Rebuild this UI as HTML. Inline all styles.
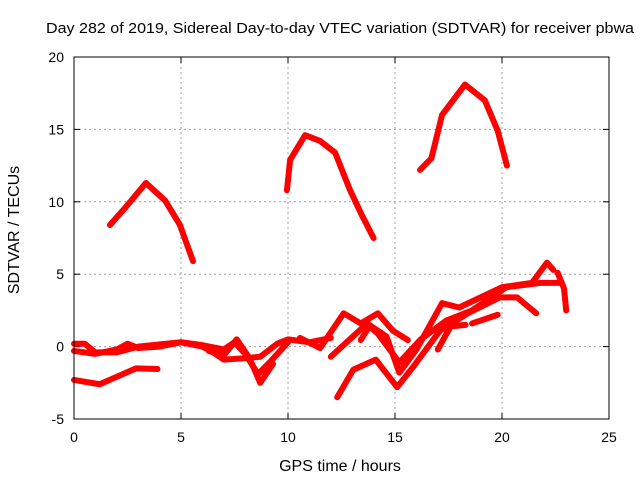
<!DOCTYPE html>
<html><head><meta charset="utf-8"><style>
body{margin:0;background:#fff;}
svg text{font-family:"Liberation Sans",sans-serif;font-size:14px;fill:#000;}
</style></head><body>
<svg id="chart" width="640" height="480">
<text x="340" y="33" text-anchor="middle" textLength="588" lengthAdjust="spacingAndGlyphs" style="font-size:15px">Day 282 of 2019, Sidereal Day-to-day VTEC variation (SDTVAR) for receiver pbwa</text>
<text x="340" y="471" text-anchor="middle" style="font-size:16px">GPS time / hours</text>
<text transform="translate(19,230) rotate(-90)" text-anchor="middle" style="font-size:16px">SDTVAR / TECUs</text>
<g id="grid"></g><g id="ticks"></g><g id="series"></g>
<rect x="74" y="57" width="535" height="362" fill="none" stroke="#000" stroke-width="1"/>
</svg>
<script>
const xTicks=[0,5,10,15,20,25];
const yTicks=[-5,0,5,10,15,20];
const arc1=[[1.68,8.4],[2.4,9.6],[3.36,11.3],[4.25,10.1],[4.95,8.4],[5.56,5.9]];
const arc2=[[9.95,10.8],[10.1,12.9],[10.8,14.6],[11.5,14.2],[12.2,13.4],[12.9,10.8],[13.46,9.05],[14.0,7.5]];
const arc3=[[16.17,12.2],[16.7,13.0],[17.2,16.0],[18.27,18.1],[19.2,17.0],[19.8,14.9],[20.23,12.5]];
const trackA=[[0,-2.3],[1.2,-2.6],[2.9,-1.5],[3.9,-1.55]];
const trackB1=[[0,-0.3],[1,-0.5],[2,-0.2],[2.5,0.2],[3,-0.1],[4,0],[5,0.3],[6,0.0],[6.5,-0.4],[7,-0.9],[8,-0.8],[8.7,-0.7],[9.5,0.2],[10,0.5],[11,0.3],[12,0.6]];
const trackB2=[[0,0.2],[0.5,0.2],[1,-0.4],[2,-0.4],[3,0],[5,0.3],[6,0.1],[7,-0.2],[7.5,0.3],[8,-0.5],[8.6,-1.9],[9.2,-1.0],[10,0.3]];
const trackB3=[[6.3,-0.3],[7,-0.6],[7.6,0.5],[8.2,-0.8],[8.7,-2.5],[9.3,-1.2]];
const trackC=[[10.56,0.6],[11.5,-0.1],[12.6,2.3],[13.4,1.6],[14.2,2.3],[14.9,1.1],[15.6,0.45]];
const trackD=[[12,-0.7],[13.7,1.6],[14.6,0.7],[15.2,-1.8],[16,-0.2],[17.2,3.0],[18.0,2.7],[19,3.4],[20,4.1],[21.4,4.4],[22.1,5.8],[22.4,5.3]];
const trackE=[[12.3,-3.5],[13.05,-1.6],[14.1,-0.9],[15.1,-2.8],[15.85,-1.4],[17.1,1.1],[18.4,2.3],[19.9,3.4],[20.7,3.4],[21.6,2.3]];
const trackF=[[13.4,0.45],[13.8,1.4],[14.2,0.9],[15.2,-1.1],[16.2,0.5],[17.4,1.8],[18.6,2.5],[20.2,4.1],[21.8,4.4],[22.7,4.4]];
const trackG=[[17,-0.2],[17.6,1.4],[18.3,1.5]];
const trackH=[[18.6,1.6],[19.8,2.2]];
const trackI=[[22.6,5.1],[22.9,4.0],[23.0,2.5]];
const allTracks=[arc1,arc2,arc3,trackA,trackB1,trackB2,trackB3,trackC,trackD,trackE,trackF,trackG,trackH,trackI];
const X0=74,X1=609,Y0=419,Y1=57;
const sx=t=>X0+(t-0)/25*(X1-X0);
const sy=v=>Y0-(v+5)/25*(Y0-Y1);
const NS="http://www.w3.org/2000/svg";
const grid=document.getElementById('grid'),ticks=document.getElementById('ticks'),ser=document.getElementById('series');
function mk(tag,attrs,parent){const e=document.createElementNS(NS,tag);for(const k in attrs)e.setAttribute(k,attrs[k]);parent.appendChild(e);return e;}
xTicks.forEach(t=>{const x=sx(t);
 if(t>0&&t<25){const g=mk('line',{x1:x,x2:x,y1:Y1,y2:Y0,stroke:'#a0a0a0','stroke-dasharray':'2,3'},grid);
 
 }
 mk('line',{x1:x,x2:x,y1:Y0,y2:Y0-6,stroke:'#000'},ticks);mk('line',{x1:x,x2:x,y1:Y1,y2:Y1+6,stroke:'#000'},ticks);
 const l=mk('text',{x:x,y:Y0+23,'text-anchor':'middle'},ticks);l.textContent=t;
 
 });
yTicks.forEach(v=>{const y=sy(v);
 if(v>-5&&v<20){const g=mk('line',{x1:X0,x2:X1,y1:y,y2:y,stroke:'#a0a0a0','stroke-dasharray':'2,3'},grid);
 
 }
 mk('line',{x1:X0,x2:X0+6,y1:y,y2:y,stroke:'#000'},ticks);mk('line',{x1:X1,x2:X1-6,y1:y,y2:y,stroke:'#000'},ticks);
 const l=mk('text',{x:X0-10,y:y+5,'text-anchor':'end'},ticks);l.textContent=v;
 
 });
allTracks.forEach((tr)=>{
 const p=mk('polyline',{points:tr.map(d=>sx(d[0])+','+sy(d[1])).join(' '),fill:'none',stroke:'#ff0000','stroke-width':6,'stroke-linejoin':'round','stroke-linecap':'round'},ser);
 
 
});
</script>
</body></html>
